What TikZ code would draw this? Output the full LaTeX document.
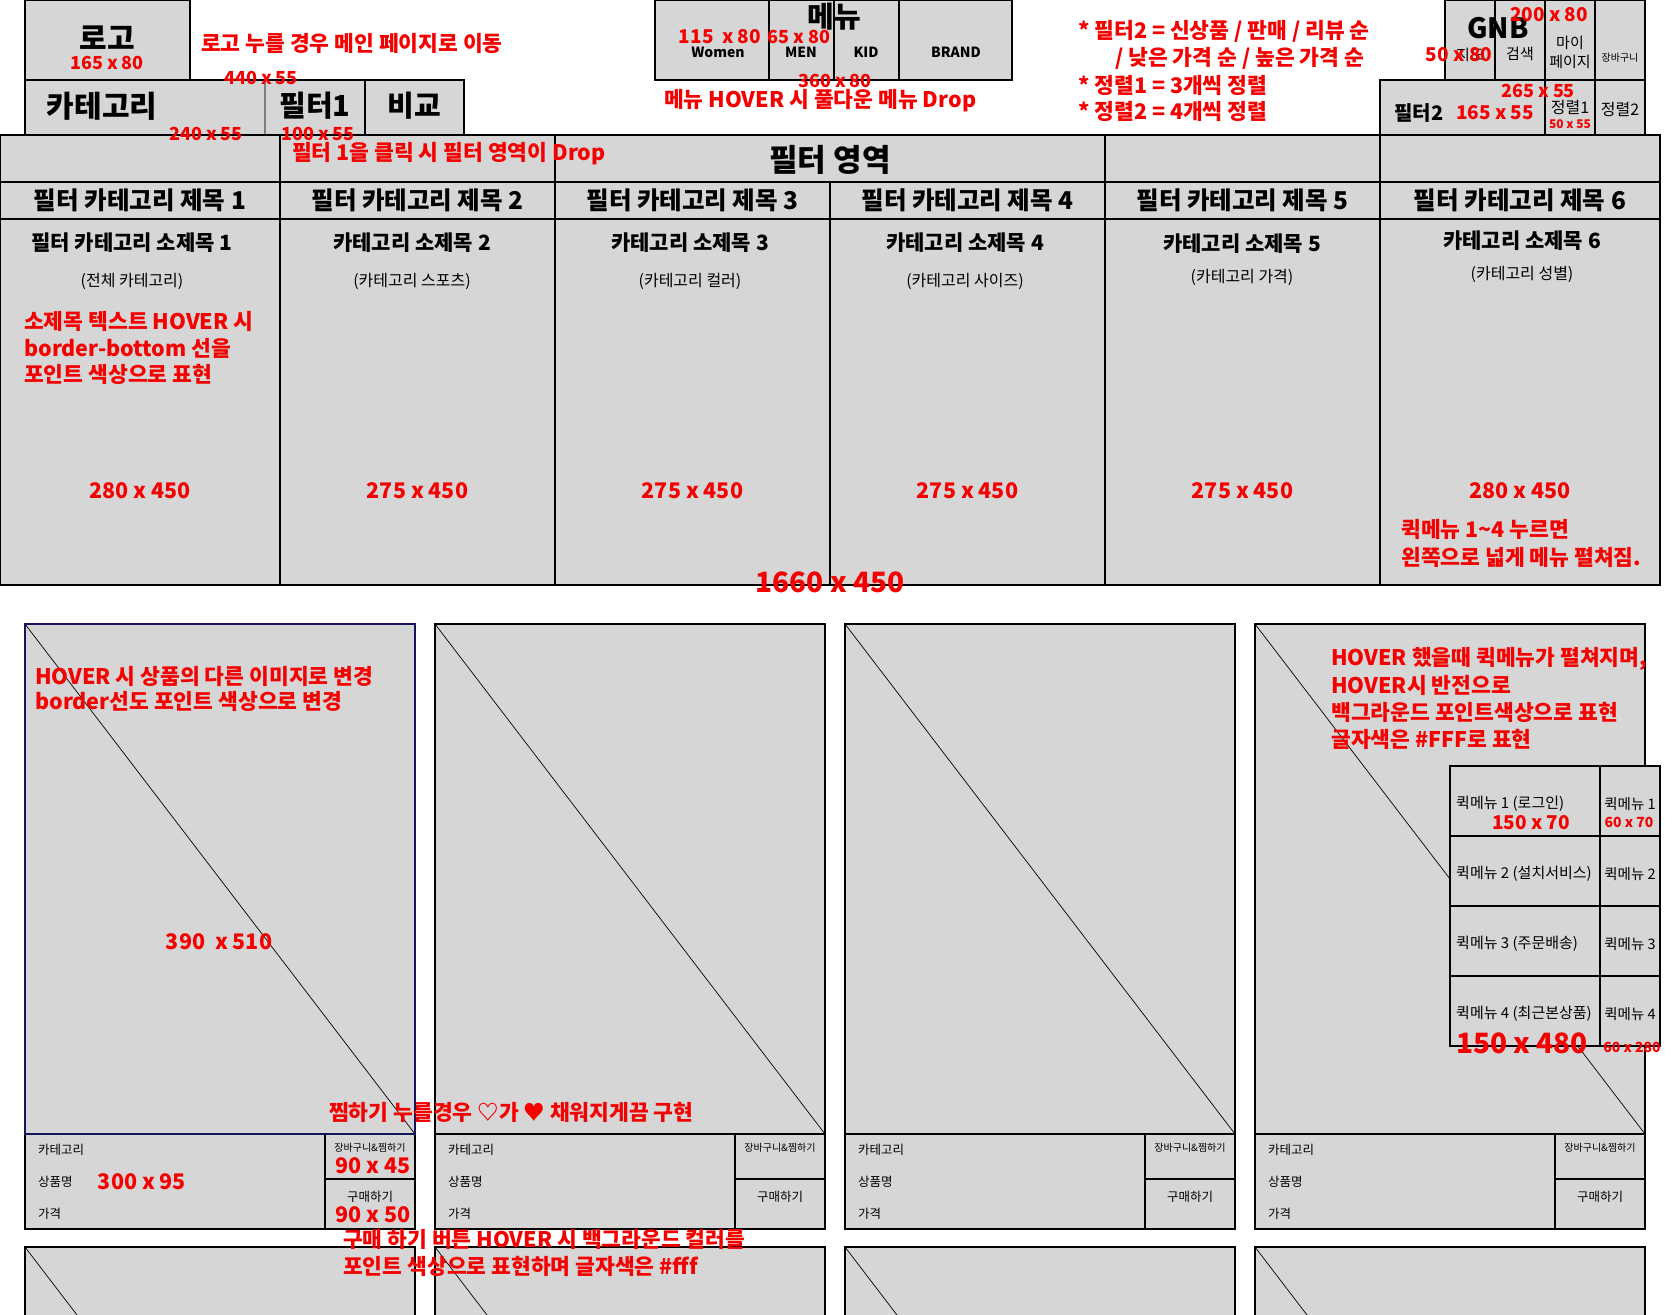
\documentclass[tikz,border=0pt]{standalone}
\usepackage{fontspec}
\setmainfont{Noto Sans CJK KR}
\definecolor{gbg}{RGB}{214,214,214}
\definecolor{red0}{RGB}{245,0,0}
\definecolor{navy0}{RGB}{20,20,90}
\newcommand\fsz[2]{\fontsize{#1}{#2}\selectfont}
\tikzset{
  cell/.style={draw=black, line width=1.6pt, fill=gbg, anchor=north west, inner sep=0pt, outer sep=0pt},
  rtxt/.style={text=red0, font=\bfseries\fsz{21.5}{24}, inner sep=0pt},
  btxt/.style={text=black, inner sep=0pt},
  diag/.style={draw=black, line width=0.7pt},
}
\begin{document}
\begin{tikzpicture}[x=1pt,y=-1pt]
\useasboundingbox (0,0) rectangle (1680,1314);
\fill[white] (0,0) rectangle (1680,1314);

% ---------- header ----------
\node[cell, minimum width=165pt, minimum height=80pt] (logo) at (25,0) {};
\node[cell, minimum width=240pt, minimum height=55pt] (cat) at (25,80) {};
\node[cell, minimum width=100pt, minimum height=55pt] (f1) at (265,80) {};
\node[cell, minimum width=99pt, minimum height=55pt] (cmp) at (365,80) {};
\draw[gray, line width=1.6pt] (f1.north west) -- (f1.south west);

\node[cell, minimum width=114pt, minimum height=80pt] (mw) at (655,0) {};
\node[cell, minimum width=65pt, minimum height=80pt] (mm) at (769,0) {};
\node[cell, minimum width=65pt, minimum height=80pt] (mk) at (834,0) {};
\node[cell, minimum width=113pt, minimum height=80pt] (mb) at (899,0) {};

\node[cell, minimum width=50pt, minimum height=80pt] (g1) at (1445,0) {};
\node[cell, minimum width=50pt, minimum height=80pt] (g2) at (1495,0) {};
\node[cell, minimum width=50pt, minimum height=80pt] (g3) at (1545,0) {};
\node[cell, minimum width=50pt, minimum height=80pt] (g4) at (1595,0) {};
\node[cell, minimum width=165pt, minimum height=55pt] (f2) at (1380,80) {};
\node[cell, minimum width=50pt, minimum height=55pt] (s1) at (1545,80) {};
\node[cell, minimum width=50pt, minimum height=55pt] (s2) at (1595,80) {};

% header texts
\node[btxt, font=\bfseries\fsz{30}{32}] (tlogo) at (107,38) {로고};
\node[btxt, font=\bfseries\fsz{30}{32}] (tcat) at (102,106) {카테고리};
\node[btxt, font=\bfseries\fsz{29}{32}] (tf1) at (315,106) {필터1};
\node[btxt, font=\bfseries\fsz{29}{32}] (tcmp) at (414,106) {비교};
\node[btxt, font=\bfseries\fsz{29}{32}] (tmenu) at (834,17) {메뉴};
\node[btxt, font=\bfseries\fsz{14}{16}] (tw) at (718,52) {Women};
\node[btxt, font=\bfseries\fsz{14}{16}] (tm) at (801,52) {MEN};
\node[btxt, font=\bfseries\fsz{14}{16}] (tk) at (866,52) {KID};
\node[btxt, font=\bfseries\fsz{14}{16}] (tb) at (956,52) {BRAND};
\node[btxt, font=\bfseries\fsz{28}{30}] (tgnb) at (1498,28) {GNB};
\node[btxt, font=\fsz{15}{17}] (tmap) at (1470,55) {지도};
\node[btxt, font=\fsz{15}{17}] (tsrch) at (1520,54) {검색};
\node[btxt, font=\fsz{15}{19}, align=center] (tmy) at (1570,52) {마이\\페이지};
\node[btxt, font=\fsz{10}{12}] (tcart) at (1620,58) {장바구니};
\node[btxt, font=\bfseries\fsz{20}{22}] (tf2) at (1419,113) {필터2};
\node[btxt, font=\fsz{16}{18}] (ts1) at (1570,107) {정렬1};
\node[btxt, font=\fsz{16}{18}] (ts2) at (1620,109) {정렬2};

% header red labels
\node[rtxt, font=\bfseries\fsz{18}{20}] (r1) at (107,63) {165 x 80};
\node[rtxt, anchor=west] (r2) at (201,43) {로고 누를 경우 메인 페이지로 이동};
\node[rtxt, font=\bfseries\fsz{18}{20}] (r3) at (261,78) {440 x 55};
\node[rtxt, font=\bfseries\fsz{19}{20}] (r6) at (720,37) {115\ \ x 80};
\node[rtxt, font=\bfseries\fsz{18}{20}] (r7) at (799,37) {65 x 80};
\node[rtxt, font=\bfseries\fsz{18}{20}] (r8) at (835,81) {360 x 80};
\node[rtxt, anchor=west] (r9) at (664,101) {메뉴 HOVER 시 풀다운 메뉴 Drop};
\node[rtxt, anchor=west] (n1) at (1078,31) {* 필터2 = 신상품 / 판매 / 리뷰 순};
\node[rtxt, anchor=west] (n2) at (1115,58) {/ 낮은 가격 순 / 높은 가격 순};
\node[rtxt, anchor=west] (n3) at (1078,85) {* 정렬1 = 3개씩 정렬};
\node[rtxt, anchor=west] (n4) at (1078,111) {* 정렬2 = 4개씩 정렬};
\node[rtxt, font=\bfseries\fsz{19}{20}] (r10) at (1549,15) {200 x 80};
\node[rtxt, font=\bfseries\fsz{19}{20}] (r11) at (1459,55) {50 x 80};
\node[rtxt, font=\bfseries\fsz{19}{20}] (r12) at (1495,113) {165 x 55};
\node[rtxt, font=\bfseries\fsz{18}{20}] (r13) at (1538,91) {265 x 55};
\node[rtxt, font=\bfseries\fsz{12}{14}] (r14) at (1570,124) {50 x 55};

% ---------- filter area ----------
\node[cell, minimum width=280pt, minimum height=47pt] (h1) at (0,135) {};
\node[cell, minimum width=275pt, minimum height=47pt] (h2) at (280,135) {};
\node[cell, minimum width=550pt, minimum height=47pt] (h3) at (555,135) {};
\node[cell, minimum width=275pt, minimum height=47pt] (h4) at (1105,135) {};
\node[cell, minimum width=280pt, minimum height=47pt] (h5) at (1380,135) {};
\foreach \i/\x/\w in {1/0/280, 2/280/275, 3/555/275, 4/830/275, 5/1105/275, 6/1380/280}{
  \node[cell, minimum width=\w pt, minimum height=37pt] (t\i) at (\x,182) {};
  \node[cell, minimum width=\w pt, minimum height=366pt] (b\i) at (\x,219) {};
  \node[btxt, font=\bfseries\fsz{24.5}{26}] (tt\i) at (\x+\w/2,200) {필터 카테고리 제목 \i};
  \node[rtxt] (sz\i) at (\x+\w/2,491) {\w\ x 450};
}
\node[btxt, font=\bfseries\fsz{31}{33}] (tarea) at (830,160) {필터 영역};
\node[btxt, font=\bfseries\fsz{21}{23}] (st1) at (132,243) {필터 카테고리 소제목 1};
\node[btxt, font=\bfseries\fsz{21}{23}] (st2) at (412,243) {카테고리 소제목 2};
\node[btxt, font=\bfseries\fsz{21}{23}] (st3) at (690,243) {카테고리 소제목 3};
\node[btxt, font=\bfseries\fsz{21}{23}] (st4) at (965,243) {카테고리 소제목 4};
\node[btxt, font=\bfseries\fsz{21}{23}] (st5) at (1242,244) {카테고리 소제목 5};
\node[btxt, font=\bfseries\fsz{21}{23}] (st6) at (1522,241) {카테고리 소제목 6};
\node[btxt, font=\fsz{16}{18}] (pt1) at (132,281) {(전체 카테고리)};
\node[btxt, font=\fsz{16}{18}] (pt2) at (412,281) {(카테고리 스포츠)};
\node[btxt, font=\fsz{16}{18}] (pt3) at (690,281) {(카테고리 컬러)};
\node[btxt, font=\fsz{16}{18}] (pt4) at (965,281) {(카테고리 사이즈)};
\node[btxt, font=\fsz{16}{18}] (pt5) at (1242,277) {(카테고리 가격)};
\node[btxt, font=\fsz{16}{18}] (pt6) at (1522,274) {(카테고리 성별)};

\node[rtxt, font=\bfseries\fsz{18}{20}] (r4) at (206,134) {240 x 55};
\node[rtxt, font=\bfseries\fsz{18}{20}] (r5) at (318,134) {100 x 55};
\node[rtxt, anchor=west] (fn1) at (292,154) {필터 1을 클릭 시 필터 영역이 Drop};
\node[rtxt, anchor=west] (fn2) at (24,321) {소제목 텍스트 HOVER 시};
\node[rtxt, anchor=west] (fn3) at (24,348) {border-bottom 선을};
\node[rtxt, anchor=west] (fn4) at (24,374) {포인트 색상으로 표현};
\node[rtxt, anchor=west] (fn5) at (1401,529) {퀵메뉴 1\textasciitilde 4 누르면};
\node[rtxt, anchor=west] (fn6) at (1401,557) {왼쪽으로 넓게 메뉴 펼쳐짐.};
\node[rtxt, font=\bfseries\fsz{28}{30}] (fn7) at (830,582) {1660 x 450};

% ---------- product cards ----------
\foreach \i/\L in {1/25, 2/435, 3/845, 4/1255}{
  \node[cell, minimum width=390pt, minimum height=510pt] (img\i) at (\L,624) {};
  \draw[diag] (img\i.north west) -- (img\i.south east);
  \node[cell, minimum width=300pt, minimum height=95pt] (inf\i) at (\L,1134) {};
  \node[cell, minimum width=90pt, minimum height=45pt] (cart\i) at (\L+300,1134) {};
  \node[cell, minimum width=90pt, minimum height=50pt] (buy\i) at (\L+300,1179) {};
  \node[btxt, anchor=west, font=\fsz{12.5}{14}] (ic\i) at (\L+13,1150) {카테고리};
  \node[btxt, anchor=west, font=\fsz{12.5}{14}] (ip\i) at (\L+13,1182) {상품명};
  \node[btxt, anchor=west, font=\fsz{12.5}{14}] (ir\i) at (\L+13,1214) {가격};
  \node[btxt, font=\fsz{10}{12}] (ik\i) at (\L+345,1148) {장바구니\&찜하기};
  \node[btxt, font=\fsz{12.5}{14}] (ib\i) at (\L+345,1197) {구매하기};
}
\draw[navy0, line width=1.2pt] (img1.north west) rectangle (img1.south east);

% second row of cards (cut off)
\begin{scope}
\clip (0,0) rectangle (1680,1314);
\foreach \i/\L in {1/25, 2/435, 3/845, 4/1255}{
  \node[cell, minimum width=390pt, minimum height=510pt] (imgb\i) at (\L,1247) {};
  \draw[diag] (imgb\i.north west) -- (imgb\i.south east);
}
\end{scope}

% quick menu
\foreach \j/\y/\t in {1/766/로그인, 2/836/설치서비스, 3/906/주문배송, 4/976/최근본상품}{
  \node[cell, minimum width=150pt, minimum height=70pt] (qa\j) at (1450,\y) {};
  \node[cell, minimum width=60pt, minimum height=70pt] (qb\j) at (1600,\y) {};
  \node[btxt, anchor=west, font=\fsz{15}{17}] (qat\j) at (1456,\y+38) {퀵메뉴 \j\ (\t)};
  \node[btxt, font=\fsz{14.5}{16}] (qbt\j) at (1630,\y+38) {퀵메뉴 \j};
}
\node[rtxt, font=\bfseries\fsz{19}{20}] (q1) at (1531,823) {150 x 70};
\node[rtxt, font=\bfseries\fsz{14}{16}] (q2) at (1629,822) {60 x 70};
\node[rtxt, font=\bfseries\fsz{28}{30}] (q3) at (1522,1043) {150 x 480};
\node[rtxt, font=\bfseries\fsz{14}{16}] (q4) at (1632,1047) {60 x 280};

% card notes
\node[rtxt, anchor=west] (c1) at (35,676) {HOVER 시 상품의 다른 이미지로 변경};
\node[rtxt, anchor=west] (c2) at (35,701) {border선도 포인트 색상으로 변경};
\node[rtxt] (c3) at (219,942) {390\ \ x 510};
\node[rtxt] (c4) at (142,1182) {300 x 95};
\node[rtxt] (c5) at (373,1166) {90 x 45};
\node[rtxt] (c6) at (373,1215) {90 x 50};
\node[rtxt, anchor=west] (c7) at (329,1112) {찜하기 누를경우 ♡가 ♥ 채워지게끔 구현};
\node[rtxt, anchor=west] (c8) at (343,1239) {구매 하기 버튼 HOVER 시 백그라운드 컬러를};
\node[rtxt, anchor=west] (c9) at (343,1266) {포인트 색상으로 표현하며 글자색은 \#fff};
\node[rtxt, anchor=west] (c10) at (1331,659) {HOVER 했을때 퀵메뉴가 펼쳐지며,};
\node[rtxt, anchor=west] (c11) at (1331,685) {HOVER시 반전으로};
\node[rtxt, anchor=west] (c12) at (1331,712) {백그라운드 포인트색상으로 표현};
\node[rtxt, anchor=west] (c13) at (1331,739) {글자색은 \#FFF로 표현};
\end{tikzpicture}
\end{document}
